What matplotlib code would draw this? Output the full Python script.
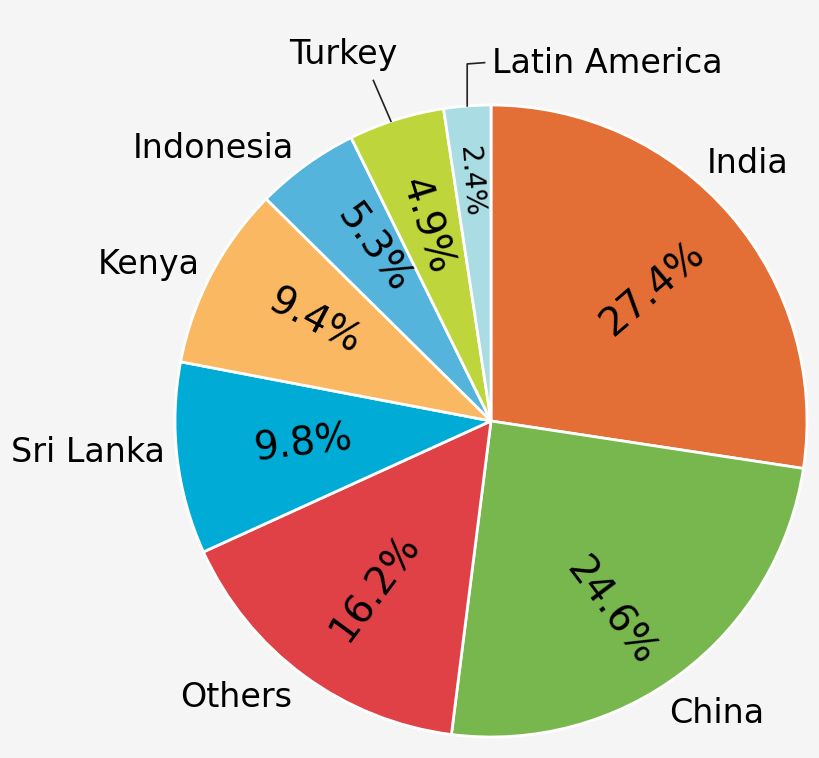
import numpy as np
import matplotlib
matplotlib.use("Agg")
import matplotlib.pyplot as plt

# data, clockwise from the top
countries = ["India", "China", "Others", "Sri Lanka", "Kenya",
             "Indonesia", "Turkey", "Latin America"]
shares = [27.4, 24.6, 16.2, 9.8, 9.4, 5.3, 4.9, 2.4]
colors = ["#e46f36", "#77b74e", "#e04146", "#00acd6", "#fbb862",
          "#54b4dc", "#bed63b", "#a9dde3"]

# label placement (radius factor, angle nudge in degrees)
label_r = [1.15, 1.17, 1.19, 1.28, 1.19, 1.23, 1.25, 1.13]
label_da = [4.4, 0.6, -6.3, -2.4, 3.2, 9.7, 4.5, -4.5]
pct_r = [0.66, 0.71, 0.64, 0.60, 0.64, 0.66, 0.65, 0.76]
pct_da = [-1.5, -5.0, 1.5, 0.0, -1.5, -1.5, 1.0, 0.5]

BG = "#f5f5f5"

fig = plt.figure(figsize=(8.2, 7.58), dpi=100, facecolor=BG)
ax = fig.add_axes([0, 0, 1, 1])
ax.set_facecolor(BG)

wedges, _ = ax.pie(
    shares,
    colors=colors,
    startangle=90,
    counterclock=False,
    radius=1.0,
    wedgeprops=dict(edgecolor="white", linewidth=2),
)

for i, w in enumerate(wedges):
    mid = (w.theta1 + w.theta2) / 2.0
    t = np.deg2rad(mid)
    tp = np.deg2rad(mid + pct_da[i])

    # percentage inside, rotated along the radius
    rot = mid
    if rot > 180:
        rot -= 360
    if rot > 90:
        rot -= 180
    elif rot < -90:
        rot += 180
    ax.text(pct_r[i] * np.cos(tp), pct_r[i] * np.sin(tp),
            f"{shares[i]:.1f}%", fontsize=28 if shares[i] > 3 else 20,
            rotation=rot, ha="center", va="center", rotation_mode="anchor")

    name = countries[i]
    if name == "Latin America":
        x0, y0 = np.cos(t), np.sin(t)
        ytop = label_r[i]
        ax.plot([x0, x0, x0 + 0.055], [y0, ytop, ytop + 0.004],
                color="#222222", lw=1.2)
        ax.text(x0 + 0.08, ytop, name, fontsize=24,
                ha="left", va="center")
        continue

    if name == "Turkey":
        a1 = np.deg2rad(mid + 1.0)
        a2 = np.deg2rad(mid + 1.6)
        ax.plot([np.cos(a1), 1.14 * np.cos(a2)],
                [np.sin(a1), 1.14 * np.sin(a2)],
                color="#222222", lw=1.2)

    ta = np.deg2rad(mid + label_da[i])
    ax.text(label_r[i] * np.cos(ta), label_r[i] * np.sin(ta), name,
            fontsize=24, ha="center", va="center")

ax.set_xlim(-491 / 316, 329 / 316)
ax.set_ylim(-337 / 316, 421 / 316)
ax.set_aspect("auto")
ax.axis("off")

fig.savefig("out.png", dpi=100, facecolor=BG)
